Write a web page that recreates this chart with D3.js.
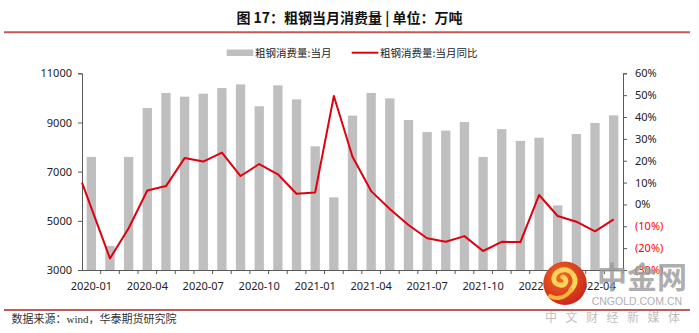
<!DOCTYPE html>
<html><head><meta charset="utf-8">
<script src="https://cdn.jsdelivr.net/npm/d3@7"></script>
<style>
html,body{margin:0;padding:0;background:#fff;}
svg{display:block;}
text{font-family:"Noto Sans","Noto Sans CJK SC",sans-serif;}
</style></head>
<body><svg id="c" width="699" height="333"></svg>
<script>
const categories = ["2020-01","2020-02","2020-03","2020-04","2020-05","2020-06","2020-07","2020-08","2020-09","2020-10","2020-11","2020-12",
"2021-01","2021-02","2021-03","2021-04","2021-05","2021-06","2021-07","2021-08","2021-09","2021-10","2021-11","2021-12",
"2022-01","2022-02","2022-03","2022-04","2022-05"];
const consumption = [7600,3980,7600,9590,10200,10050,10170,10400,10550,9660,10510,9940,
8030,5955,9280,10200,9980,9100,8610,8670,9020,7600,8730,8250,
8380,5630,8530,8980,9290];
const yoy = [10.0,-24.7,-10.9,6.4,8.4,21.2,19.6,23.7,13.0,18.5,13.8,4.9,
5.5,49.6,21.8,6.1,-2.1,-9.4,-15.5,-17.1,-14.5,-21.3,-17.1,-17.2,
4.3,-5.3,-7.9,-12.3,-6.8];
const xTickLabels = ["2020-01","2020-04","2020-07","2020-10","2021-01","2021-04","2021-07","2021-10","2022-01","2022-04"];
const leftTicks = [3000,5000,7000,9000,11000];
const rightTicks = [-30,-20,-10,0,10,20,30,40,50,60];
const title = "图 17：粗钢当月消费量 | 单位：万吨";
const legendBar = "粗钢消费量:当月";
const legendLine = "粗钢消费量:当月同比";
const source = "数据来源：wind，华泰期货研究院";

const svg = d3.select("#c");
const L = 82, R = 623, T = 73.3, B = 270;
const axisColor = "#595959";

const x = d3.scaleBand(categories, [L, R]).paddingInner(0.5).paddingOuter(0.25);
const yL = d3.scaleLinear([3000, 11000], [B, T]);
const yR = d3.scaleLinear([-30, 60], [B, T]);

// title & rules
svg.append("text").attr("x", 349.5).attr("y", 16.5).attr("text-anchor","middle")
  .attr("dominant-baseline","central").attr("font-size",14).attr("font-weight","bold")
  .attr("fill","#111").style("font-family","'Noto Sans CJK SC',sans-serif").text(title);
svg.append("line").attr("x1",4).attr("x2",690).attr("y1",32.3).attr("y2",32.3)
  .attr("stroke","#BF5B5B").attr("stroke-width",2);
svg.append("line").attr("x1",4).attr("x2",690).attr("y1",310).attr("y2",310)
  .attr("stroke","#BF5B5B").attr("stroke-width",2);

// legend
svg.append("rect").attr("x",226.7).attr("y",49.5).attr("width",26.6).attr("height",6.5).attr("fill","#BFBFBF");
svg.append("text").attr("x",255).attr("y",52.7).attr("dominant-baseline","central")
  .attr("font-size",10.5).attr("fill","#222").style("font-family","'Noto Sans CJK SC',sans-serif").text(legendBar);
svg.append("line").attr("x1",351.7).attr("x2",378.3).attr("y1",52.7).attr("y2",52.7)
  .attr("stroke","#E00010").attr("stroke-width",2);
svg.append("text").attr("x",380).attr("y",52.7).attr("dominant-baseline","central")
  .attr("font-size",10.5).attr("fill","#222").style("font-family","'Noto Sans CJK SC',sans-serif").text(legendLine);

// bars
svg.append("g").selectAll("rect").data(categories).join("rect")
  .attr("x", d => x(d)).attr("width", x.bandwidth())
  .attr("y", (d,i) => yL(consumption[i])).attr("height", (d,i) => B - yL(consumption[i]))
  .attr("fill","#BFBFBF");

// left axis
const gl = svg.append("g").attr("transform",`translate(${L},0)`)
  .call(d3.axisLeft(yL).tickValues(leftTicks).tickSize(4).tickPadding(6).tickFormat(d3.format("d")));
gl.select(".domain").attr("stroke",axisColor);
gl.selectAll(".tick line").attr("stroke",axisColor);
gl.selectAll("text").attr("font-size",11).attr("fill","#222").style("font-family","'Noto Sans',sans-serif");

// right axis
const gr = svg.append("g").attr("transform",`translate(${R},0)`)
  .call(d3.axisRight(yR).tickValues(rightTicks).tickSize(4).tickPadding(8)
    .tickFormat(d => d < 0 ? `(${-d}%)` : `${d}%`));
gr.select(".domain").attr("stroke",axisColor);
gr.selectAll(".tick line").attr("stroke",axisColor);
gr.selectAll("text").attr("font-size",11).attr("fill", d => d < 0 ? "#FF0000" : "#222")
  .style("font-family","'Noto Sans',sans-serif");

// bottom axis
const gb = svg.append("g").attr("transform",`translate(0,${B})`)
  .call(d3.axisBottom(x).tickValues(xTickLabels).tickSize(0).tickPadding(12));
gb.select(".domain").attr("stroke",axisColor);
gb.selectAll("text").attr("font-size",11).attr("fill","#222").style("font-family","'Noto Sans',sans-serif");
gb.selectAll(".tickmark").data(categories).join("line").attr("class","tickmark")
  .attr("x1", d => x(d) + x.bandwidth()/2 + x.step()/2).attr("x2", d => x(d) + x.bandwidth()/2 + x.step()/2)
  .attr("y1",0).attr("y2",4).attr("stroke",axisColor);

// line (first point anchored at the axis edge as in the source chart)
const line = d3.line()
  .x((d,i) => i === 0 ? L : x(categories[i]) + x.bandwidth()/2)
  .y(d => yR(d));
svg.append("path").datum(yoy).attr("d", line).attr("fill","none")
  .attr("stroke","#E00010").attr("stroke-width",2).attr("stroke-linejoin","round");

// source
svg.append("text").attr("x",11.5).attr("y",318.5).attr("dominant-baseline","central")
  .attr("font-size",11).attr("fill","#333")
  .style("font-family","'Liberation Serif','Noto Sans CJK SC',serif").text(source);

// watermark
const defs = svg.append("defs");
const rg = defs.append("radialGradient").attr("id","wg").attr("cx","40%").attr("cy","35%").attr("r","70%");
rg.append("stop").attr("offset","0%").attr("stop-color","#F26A22");
rg.append("stop").attr("offset","100%").attr("stop-color","#C8241A");
const wm = svg.append("g");
wm.append("circle").attr("cx",565).attr("cy",283.3).attr("r",21.7).attr("fill","url(#wg)");
wm.append("path").attr("d","M571,290 C580,280 572,268 562,270 C552,272 551,284 560,285 C566,286 568,279 563,277")
  .attr("fill","none").attr("stroke","#FBD25A").attr("stroke-width",5).attr("stroke-linecap","round");
wm.append("path").attr("d","M571,290 C566,298 556,300 550,296")
  .attr("fill","none").attr("stroke","#F7B23A").attr("stroke-width",4).attr("stroke-linecap","round");
wm.append("text").attr("x",597).attr("y",288).attr("font-size",30).attr("font-weight","bold")
  .attr("fill","#9a9a9a").attr("opacity",0.8).style("font-family","'Noto Sans CJK SC',sans-serif").text("中金网");
wm.append("text").attr("x",591.7).attr("y",300.7).attr("dominant-baseline","central").attr("font-size",10.5)
  .attr("fill","#b0b0b0").style("font-family","'Liberation Sans',sans-serif").text("CNGOLD.COM.CN");
wm.append("text").attr("x",545).attr("y",316).attr("dominant-baseline","central").attr("font-size",12)
  .attr("letter-spacing","8.5px").attr("fill","#c0c0c0").style("font-family","'Noto Sans CJK SC',sans-serif").text("中文财经新媒体");
</script></body></html>
